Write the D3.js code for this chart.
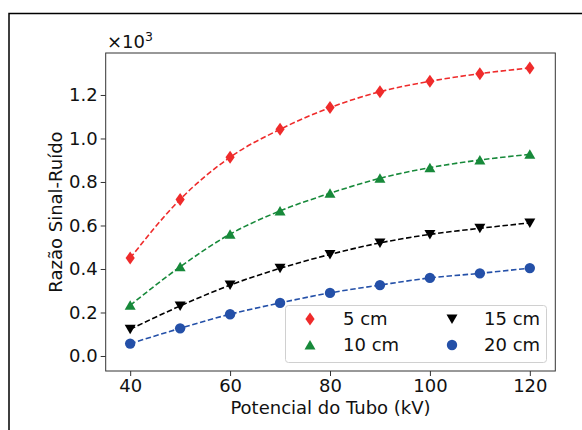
<!DOCTYPE html>
<html><head><meta charset="utf-8">
<script src="https://cdn.jsdelivr.net/npm/d3@7"></script>
<style>body{margin:0;background:#fff}svg{display:block}text{font-family:"DejaVu Sans",sans-serif;fill:#111}</style>
</head><body><svg id="c" width="582" height="430"></svg>
<script>
const kv = [40, 50, 60, 70, 80, 90, 100, 110, 120];
const s5cm  = [0.450, 0.720, 0.914, 1.042, 1.142, 1.215, 1.263, 1.298, 1.324];
const s10cm = [0.233, 0.410, 0.560, 0.667, 0.748, 0.817, 0.866, 0.901, 0.927];
const s15cm = [0.123, 0.230, 0.326, 0.403, 0.467, 0.520, 0.559, 0.587, 0.612];
const s20cm = [0.057, 0.127, 0.192, 0.244, 0.290, 0.326, 0.359, 0.380, 0.404];
const seriesNames = ["5 cm", "10 cm", "15 cm", "20 cm"];
const xTicks = [40, 60, 80, 100, 120];
const yTicks = [0.0, 0.2, 0.4, 0.6, 0.8, 1.0, 1.2];

const colors = ["#ef2b2b", "#17893a", "#000000", "#2450a8"];
const shapes = ["diamond", "up", "down", "circle"];
const series = [s5cm, s10cm, s15cm, s20cm];
const FS = 18;

const svg = d3.select("#c");
const L = 105.7, R = 555.3, T = 53, B = 371;
const x = d3.scaleLinear().domain([35.1, 125.1]).range([L, R]);
const y = d3.scaleLinear().domain([-0.069, 1.393]).range([B, T]);

// outer figure frame
svg.append("rect").attr("x", 9).attr("y", 13.5).attr("width", 700).attr("height", 600)
  .attr("fill", "none").attr("stroke", "#000").attr("stroke-width", 1.5);

function markerPath(shape) {
  switch (shape) {
    case "diamond": return "M0,-6.5L4.6,0L0,6.5L-4.6,0Z";
    case "up": return "M0,-5L5.5,4.5L-5.5,4.5Z";
    case "down": return "M0,5L5.5,-4.5L-5.5,-4.5Z";
    default: return d3.symbol(d3.symbolCircle, Math.PI * 5.2 * 5.2)();
  }
}

// lines
const line = d3.line().x(d => x(d[0])).y(d => y(d[1])).curve(d3.curveMonotoneX);
series.forEach((s, i) => {
  const pts = kv.map((k, j) => [k, s[j]]);
  svg.append("path").attr("d", line(pts)).attr("fill", "none")
    .attr("stroke", colors[i]).attr("stroke-width", 1.6).attr("stroke-dasharray", "5.5,2.6");
});
series.forEach((s, i) => {
  svg.append("g").selectAll("path").data(kv.map((k, j) => [k, s[j]])).join("path")
    .attr("d", markerPath(shapes[i]))
    .attr("transform", d => `translate(${x(d[0])},${y(d[1])})`)
    .attr("fill", colors[i]);
});

// axes
const xa = svg.append("g").attr("transform", `translate(0,${B})`)
  .call(d3.axisBottom(x).tickValues(xTicks).tickSize(5).tickPadding(3).tickFormat(d3.format("d")));
const ya = svg.append("g").attr("transform", `translate(${L},0)`)
  .call(d3.axisLeft(y).tickValues(yTicks).tickSize(5).tickPadding(3).tickFormat(d3.format(".1f")));
[xa, ya].forEach(a => {
  a.attr("font-size", FS).attr("font-family", "DejaVu Sans");
  a.select(".domain").remove();
  a.selectAll("line").attr("stroke", "#333").attr("stroke-width", 1);
  a.selectAll("text").attr("fill", "#111");
});
svg.append("rect").attr("x", L).attr("y", T).attr("width", R - L).attr("height", B - T)
  .attr("fill", "none").attr("stroke", "#333").attr("stroke-width", 1);

// labels
svg.append("text").attr("x", (L + R) / 2).attr("y", 413.5).attr("text-anchor", "middle")
  .attr("font-size", FS).text("Potencial do Tubo (kV)");
svg.append("text").attr("transform", `translate(61.5,${(T + B) / 2}) rotate(-90)`)
  .attr("text-anchor", "middle").attr("font-size", FS).text("Razão Sinal-Ruído");
const mult = svg.append("text").attr("x", 107).attr("y", 48).attr("font-size", FS);
mult.append("tspan").text("×10");
mult.append("tspan").attr("dy", -7).attr("font-size", 12.5).text("3");

// legend
const lg = svg.append("g");
lg.append("rect").attr("x", 285.5).attr("y", 305.5).attr("width", 261).attr("height", 57).attr("rx", 3)
  .attr("fill", "#fff").attr("fill-opacity", 0.85).attr("stroke", "#d0d0d0").attr("stroke-width", 1);
const lx = [310, 452], tx = [343, 484], ly = [319, 345];
seriesNames.forEach((n, i) => {
  const col = Math.floor(i / 2), row = i % 2;
  lg.append("path").attr("d", markerPath(shapes[i]))
    .attr("transform", `translate(${lx[col]},${ly[row]})`).attr("fill", colors[i]);
  lg.append("text").attr("x", tx[col]).attr("y", ly[row]).attr("dy", "0.36em")
    .attr("font-size", FS).text(n);
});
</script></body></html>
